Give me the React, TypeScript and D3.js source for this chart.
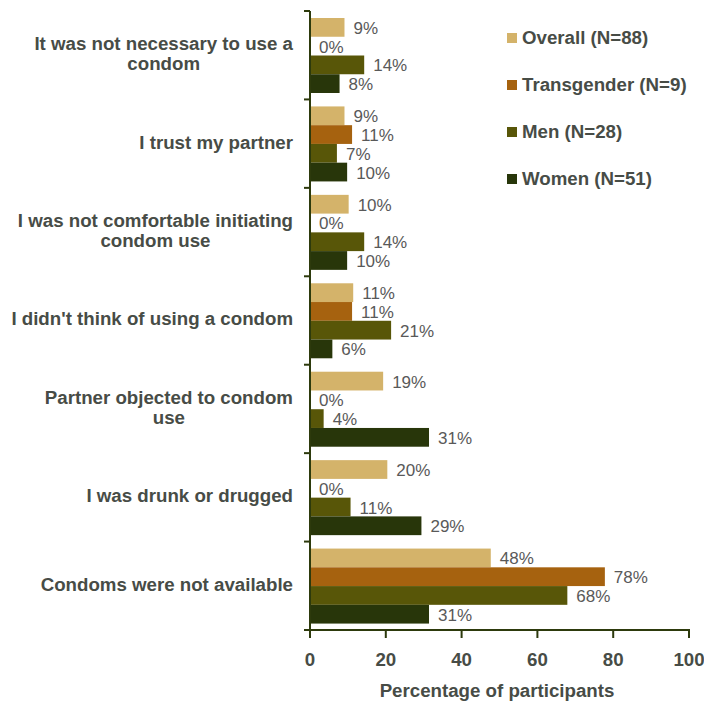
import React from "react";
import * as d3 from "d3";

const categories: string[][] = [
  ["It was not necessary to use a", "condom"],
  ["I trust my partner"],
  ["I was not comfortable initiating", "condom use"],
  ["I didn't think of using a condom"],
  ["Partner objected to condom", "use"],
  ["I was drunk or drugged"],
  ["Condoms were not available"],
];
const seriesNames = ["Overall (N=88)", "Transgender (N=9)", "Men (N=28)", "Women (N=51)"];
const overall = [9.1, 9.1, 10.2, 11.4, 19.3, 20.4, 47.7];
const transgender = [0, 11.1, 0, 11.1, 0, 0, 77.8];
const men = [14.3, 7.1, 14.3, 21.4, 3.6, 10.7, 67.9];
const women = [7.8, 9.8, 9.8, 5.9, 31.4, 29.4, 31.4];
const xTicks = [0, 20, 40, 60, 80, 100];
const colors = ["#d4b36a", "#a6620f", "#585608", "#28360a"];
const xTitle = "Percentage of participants";

const FONT = "Arial, 'Liberation Sans', sans-serif";
const BIG = 18.7;

function measure(text: string, font: string): number {
  const c = document.createElement("canvas");
  const ctx = c.getContext("2d")!;
  ctx.font = font;
  return ctx.measureText(text).width;
}

export default function App() {
  const series = [overall, transgender, men, women];
  const x = d3.scaleLinear().domain([0, 100]).range([310, 689]);
  const y = d3.scaleBand<number>().domain(d3.range(categories.length)).range([11, 630]);
  const inner = d3.scaleBand<number>().domain(d3.range(series.length)).range([7, 82]);
  const axisColor = "#2d3a0c";
  const textColor = "#474c46";
  const labelColor = "#595959";

  return (
    <svg width={704} height={704} style={{ position: "absolute", left: 0, top: 0, background: "#fff" }} fontFamily={FONT}>
      {/* bars */}
      {categories.map((_, ci) => (
        <g key={ci} transform={`translate(0,${y(ci)})`}>
          {series.map((s, si) => {
            const v = s[ci];
            const yy = inner(si)!;
            const h = inner.bandwidth();
            return (
              <g key={si}>
                <rect x={x(0)} y={yy} width={x(v) - x(0)} height={h} fill={colors[si]} />
                <text x={x(v) + 9} y={yy + h / 2 + 6.5} fontSize={17} fill={labelColor}>
                  {Math.round(v)}%
                </text>
              </g>
            );
          })}
        </g>
      ))}
      {/* category labels */}
      {categories.map((lines, ci) => {
        const font = `bold ${BIG}px ${FONT}`;
        const w = Math.max(...lines.map((l) => measure(l, font)));
        const cx = 293 - w / 2;
        const cy = y(ci)! + y.bandwidth() / 2;
        const lh = 20.5;
        return (
          <text key={ci} fontSize={BIG} fontWeight="bold" fill={textColor} textAnchor="middle">
            {lines.map((l, li) => (
              <tspan key={li} x={cx} y={cy + (li - (lines.length - 1) / 2) * lh} dominantBaseline="middle">
                {l}
              </tspan>
            ))}
          </text>
        );
      })}
      {/* y axis */}
      <line x1={x(0)} x2={x(0)} y1={11} y2={631} stroke={axisColor} strokeWidth={2} />
      {d3.range(categories.length + 1).map((i) => {
        const yy = i < categories.length ? y(i)! : 630;
        return <line key={i} x1={x(0) - 6} x2={x(0)} y1={yy} y2={yy} stroke={axisColor} strokeWidth={2} />;
      })}
      {/* x axis */}
      <line x1={x(0) - 1} x2={x(100) + 1} y1={630} y2={630} stroke={axisColor} strokeWidth={2} />
      {xTicks.map((t) => (
        <g key={t}>
          <line x1={x(t)} x2={x(t)} y1={630} y2={638} stroke={axisColor} strokeWidth={2} />
          <text x={x(t)} y={666} textAnchor="middle" fontSize={BIG} fontWeight="bold" fill={textColor}>
            {t}
          </text>
        </g>
      ))}
      <text x={497} y={697} textAnchor="middle" fontSize={BIG} fontWeight="bold" fill={textColor}>
        {xTitle}
      </text>
      {/* legend */}
      {seriesNames.map((n, i) => {
        const cy = 38 + i * 47;
        return (
          <g key={i}>
            <rect x={507} y={cy - 5} width={10} height={10} fill={colors[i]} />
            <text x={522} y={cy + 1} dominantBaseline="middle" fontSize={BIG} fontWeight="bold" fill={textColor}>
              {n}
            </text>
          </g>
        );
      })}
    </svg>
  );
}
